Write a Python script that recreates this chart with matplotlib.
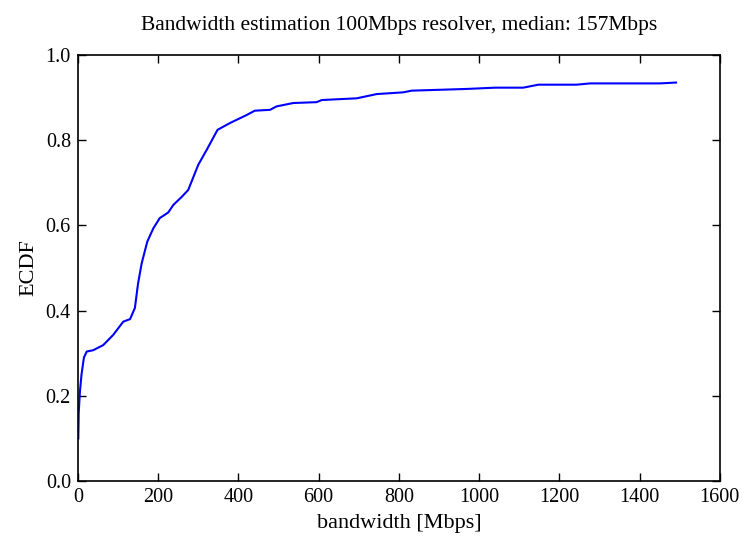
import numpy as np
import matplotlib
matplotlib.use("Agg")
from matplotlib import pyplot as plt

# ECDF (bandwidth in Mbps, cumulative fraction)
bandwidth = [1, 2, 5, 9, 15, 22, 38, 63, 88, 113, 130, 142, 150, 159, 173, 188,
             204, 225, 238, 259, 275, 300, 321, 348, 379, 421, 441, 479, 495,
             537, 595, 608, 695, 745, 811, 832, 969, 1040, 1110, 1148, 1243,
             1277, 1451, 1491]
ecdf = [0.10, 0.16, 0.21, 0.25, 0.29, 0.304, 0.307, 0.319, 0.343, 0.374, 0.38,
        0.406, 0.464, 0.511, 0.562, 0.593, 0.617, 0.63, 0.648, 0.667, 0.683,
        0.742, 0.777, 0.824, 0.84, 0.859, 0.869, 0.871, 0.879, 0.887, 0.889,
        0.894, 0.898, 0.908, 0.912, 0.916, 0.920, 0.923, 0.923, 0.930, 0.930,
        0.933, 0.933, 0.935]

plt.rcParams['font.family'] = ['Liberation Serif', 'DejaVu Serif']
plt.rcParams['font.size'] = 15

fig = plt.figure(figsize=(7.42, 5.43), dpi=100)
ax = fig.add_axes([0.105, 0.114, 0.865, 0.785])
ax.plot(bandwidth, ecdf, color='b', linewidth=1.5)

ax.set_xlim(0, 1600)
ax.set_ylim(0, 1.0)
ax.set_xticks(np.arange(0, 1601, 200))
ax.set_yticks(np.arange(0, 1.01, 0.2))
ax.yaxis.set_major_formatter(matplotlib.ticker.FormatStrFormatter('%.1f'))
ax.tick_params(direction='in', top=True, right=True, length=6, width=1,
               labelsize=14.5, pad=5)
for s in ax.spines.values():
    s.set_linewidth(1.2)

ax.set_xlabel('bandwidth [Mbps]', fontsize=16, labelpad=5)
ax.set_ylabel('ECDF', fontsize=16, labelpad=5)
ax.set_title('Bandwidth estimation 100Mbps resolver, median: 157Mbps',
             fontsize=15.5, pad=18)

fig.savefig('out.png', dpi=100)
